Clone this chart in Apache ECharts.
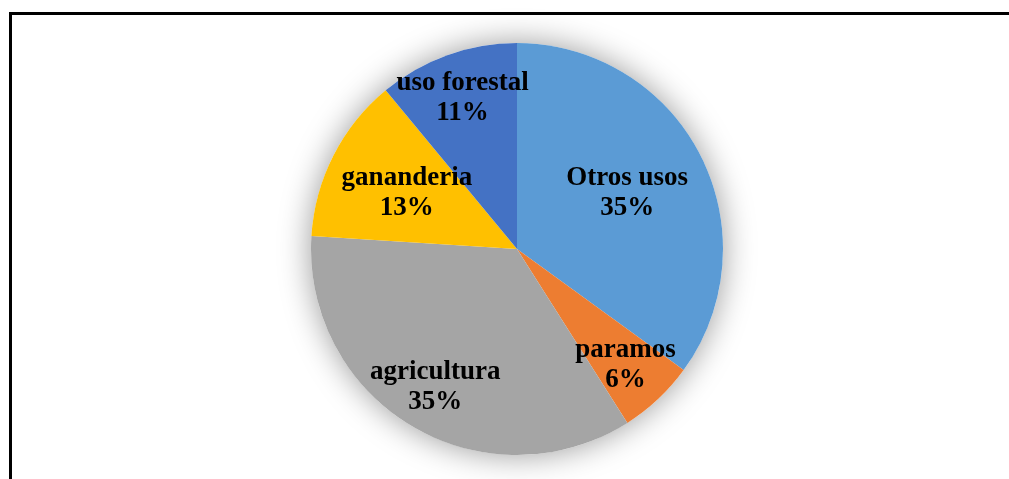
<!DOCTYPE html>
<html>
<head>
<meta charset="utf-8">
<script src="https://cdn.jsdelivr.net/npm/echarts@6/dist/echarts.min.js"></script>
<style>
  html, body { margin: 0; padding: 0; background: #fff; }
  #chart { width: 1009px; height: 479px; }
</style>
</head>
<body>
<div id="chart"></div>
<script>
  // datos del grafico
  var categorias = ['Otros usos', 'paramos', 'agricultura', 'gananderia', 'uso forestal'];
  var valores = [35, 6, 35, 13, 11];
  var colores = ['#5B9BD5', '#ED7D31', '#A5A5A5', '#FFC000', '#4472C4'];
  // distancia de la etiqueta al centro (fraccion del radio)
  var distEtiqueta = [0.6, 0.77, 0.78, 0.6, 0.78];

  var cx = 517, cy = 249, radio = 206;
  var total = valores.reduce(function (a, b) { return a + b; }, 0);

  var myChart = echarts.init(document.getElementById('chart'));

  var option = {
    backgroundColor: '#fff',
    animation: false,
    graphic: [{
      type: 'rect',
      shape: { x: 10.5, y: 13.5, width: 1100, height: 600 },
      style: { fill: 'none', stroke: '#000', lineWidth: 3 },
      z: 100
    }],
    series: [
      {
        // sombra suave debajo del pastel
        type: 'pie',
        silent: true,
        center: [cx, cy],
        radius: radio,
        z: 1,
        label: { show: false },
        labelLine: { show: false },
        itemStyle: {
          color: '#fff',
          shadowBlur: 32,
          shadowColor: 'rgba(0,0,0,0.4)'
        },
        data: [{ value: 1, name: '' }]
      },
      {
        name: 'usos',
        type: 'pie',
        center: [cx, cy],
        radius: radio,
        startAngle: 90,
        clockwise: true,
        z: 2,
        label: {
          show: true,
          position: 'inside',
          formatter: function (p) { return p.name + '\n' + Math.round(p.percent) + '%'; },
          fontFamily: '"Liberation Serif", "Times New Roman", serif',
          fontWeight: 'bold',
          fontSize: 27,
          lineHeight: 30,
          color: '#000',
          align: 'center',
          verticalAlign: 'middle'
        },
        labelLine: { show: false },
        labelLayout: function (params) {
          var i = params.dataIndex;
          var acum = 0;
          for (var k = 0; k < i; k++) acum += valores[k];
          var medio = (acum + valores[i] / 2) / total * Math.PI * 2;
          var r = radio * distEtiqueta[i];
          return {
            x: cx + r * Math.sin(medio),
            y: cy - r * Math.cos(medio)
          };
        },
        itemStyle: { borderWidth: 0 },
        data: categorias.map(function (c, i) {
          return { name: c, value: valores[i], itemStyle: { color: colores[i] } };
        })
      }
    ]
  };

  myChart.setOption(option);
</script>
</body>
</html>
